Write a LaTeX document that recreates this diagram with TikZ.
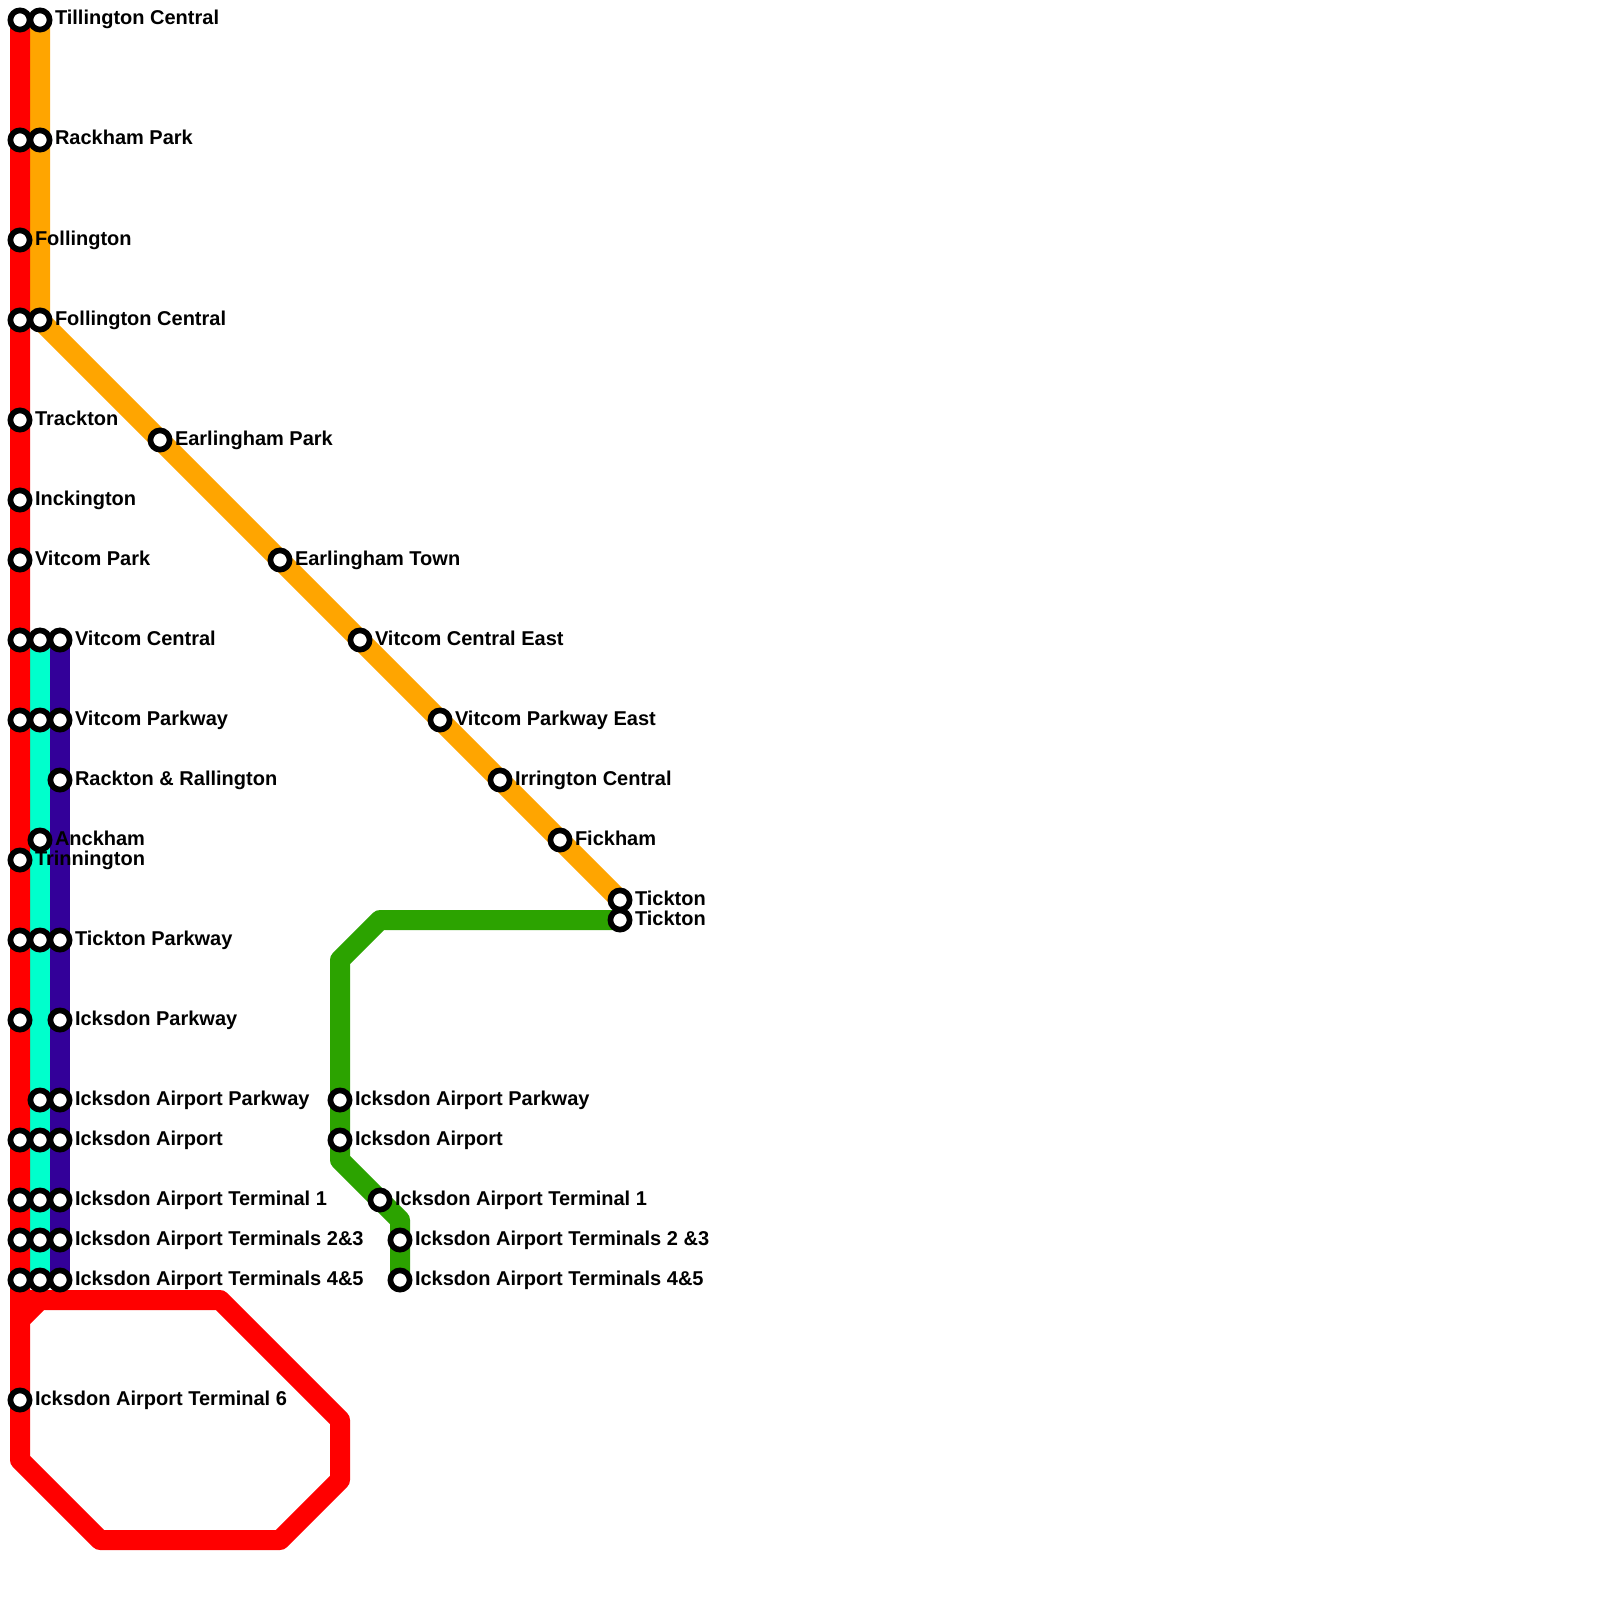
\documentclass[tikz,border=0pt]{standalone}
\usepackage{fontspec}
\setmainfont{Liberation Sans}
\definecolor{redline}{RGB}{255,0,0}
\definecolor{orangeline}{RGB}{255,165,0}
\definecolor{tealline}{RGB}{0,255,204}
\definecolor{purpleline}{RGB}{51,0,153}
\definecolor{greenline}{RGB}{44,163,0}
\pgfdeclarelayer{lines}
\pgfdeclarelayer{labels}
\pgfsetlayers{lines,main,labels}
\tikzset{
  metro/.style={line width=20pt,line join=round,line cap=butt},
  stn/.style={circle,draw=black,fill=white,line width=5.7pt,minimum size=19.2pt,inner sep=0pt,outer sep=0pt},
  stnlabel/.style={anchor=base west,inner sep=0pt,outer sep=0pt,text=black,font=\fontsize{20pt}{20pt}\selectfont\bfseries},
}
% \st{name}{x}{y}{label}
\newcommand{\st}[4]{%
  \node[stn] (#1) at (#2,#3) {};
  \begin{pgfonlayer}{labels}
    \node[stnlabel] (#1l) at (#2+15,#3+5) {#4};
  \end{pgfonlayer}}
\newcommand{\sn}[3]{\node[stn] (#1) at (#2,#3) {};}
\begin{document}
\begin{tikzpicture}[x=1pt,y=-1pt]
\useasboundingbox (0,0) rectangle (1600,1600);
% red line
\sn{ra}{20}{20}
\sn{rb}{20}{140}
\st{rc}{20}{240}{Follington}
\sn{rd}{20}{320}
\st{re}{20}{420}{Trackton}
\st{rf}{20}{500}{Inckington}
\st{rg}{20}{560}{Vitcom Park}
\sn{rh}{20}{640}
\sn{ri}{20}{720}
\st{rj}{20}{860}{Trinnington}
\sn{rk}{20}{940}
\sn{rl}{20}{1020}
\sn{rm}{20}{1140}
\sn{rn}{20}{1200}
\sn{ro}{20}{1240}
\sn{rp}{20}{1280}
\st{rq}{20}{1400}{Icksdon Airport Terminal 6}
% orange upper
\st{oa}{40}{20}{Tillington Central}
\st{ob}{40}{140}{Rackham Park}
\st{oc}{40}{320}{Follington Central}
\st{od}{160}{440}{Earlingham Park}
\st{oe}{280}{560}{Earlingham Town}
\st{of}{360}{640}{Vitcom Central East}
\st{og}{440}{720}{Vitcom Parkway East}
\st{oh}{500}{780}{Irrington Central}
\st{oi}{560}{840}{Fickham}
\st{oj}{620}{900}{Tickton}
% teal
\sn{ta}{40}{640}
\sn{tb}{40}{720}
\st{tc}{40}{840}{Anckham}
\sn{td}{40}{940}
\sn{te}{40}{1100}
\sn{tf}{40}{1140}
\sn{tg}{40}{1200}
\sn{th}{40}{1240}
\sn{ti}{40}{1280}
% purple
\st{pa}{60}{640}{Vitcom Central}
\st{pb}{60}{720}{Vitcom Parkway}
\st{pc}{60}{780}{Rackton \& Rallington}
\st{pd}{60}{940}{Tickton Parkway}
\st{pe}{60}{1020}{Icksdon Parkway}
\st{pf}{60}{1100}{Icksdon Airport Parkway}
\st{pg}{60}{1140}{Icksdon Airport}
\st{ph}{60}{1200}{Icksdon Airport Terminal 1}
\st{pi}{60}{1240}{Icksdon Airport Terminals 2\&3}
\st{pj}{60}{1280}{Icksdon Airport Terminals 4\&5}
% green
\st{ga}{620}{920}{Tickton}
\st{gb}{340}{1100}{Icksdon Airport Parkway}
\st{gc}{340}{1140}{Icksdon Airport}
\st{gd}{380}{1200}{Icksdon Airport Terminal 1}
\st{ge}{400}{1240}{Icksdon Airport Terminals 2 \&3}
\st{gf}{400}{1280}{Icksdon Airport Terminals 4\&5}
% bends
\coordinate (r0) at (20,1300);
\coordinate (r1) at (20,1320);
\coordinate (r2) at (40,1300);
\coordinate (r3) at (220,1300);
\coordinate (r4) at (340,1420);
\coordinate (r5) at (340,1480);
\coordinate (r6) at (280,1540);
\coordinate (r7) at (100,1540);
\coordinate (r8) at (20,1460);
\coordinate (g1) at (380,920);
\coordinate (g2) at (340,960);
\coordinate (g3) at (340,1160);
\coordinate (g4) at (400,1220);
\begin{pgfonlayer}{lines}
\fill[white] (0,0) rectangle (1600,1600);
\draw[metro,tealline] (ta.center) -- (ti.center);
\draw[metro,purpleline] (pa.center) -- (pj.center);
\draw[metro,orangeline] (oa.center) -- (oc.center) -- (oj.center);
\draw[metro,greenline] (ga.center) -- (g1) -- (g2) -- (g3) -- (g4) -- (gf.center);
\draw[metro,redline] (ra.center) -- (r1) -- (r2) -- (r3) -- (r4) -- (r5) -- (r6) -- (r7) -- (r8) -- (r1);
\draw[metro,redline,line cap=rect] (r0) -- (r2);
\end{pgfonlayer}
\end{tikzpicture}
\end{document}
